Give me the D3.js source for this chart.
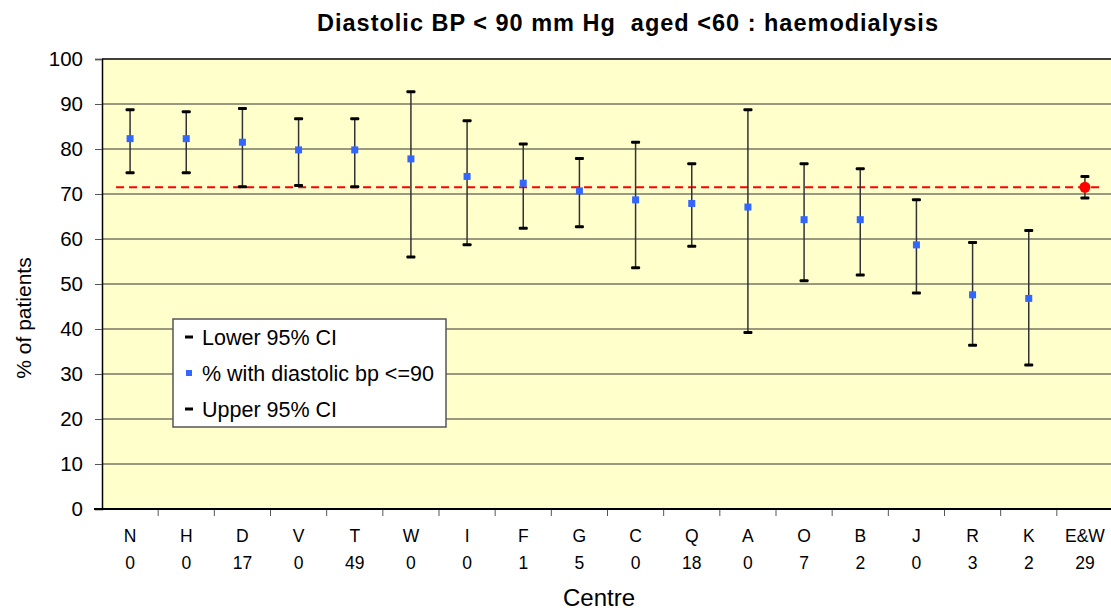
<!DOCTYPE html>
<html>
<head>
<meta charset="utf-8">
<script src="https://cdn.jsdelivr.net/npm/d3@7"></script>
<style>
  body { margin: 0; background: #fff; }
  text { font-family: "Liberation Sans", Arial, sans-serif; }
</style>
</head>
<body>
<script>
var centres = ["N", "H", "D", "V", "T", "W", "I", "F", "G", "C", "Q", "A", "O", "B", "J", "R", "K", "E&W"];
var counts  = ["0", "0", "17", "0", "49", "0", "0", "1", "5", "0", "18", "0", "7", "2", "0", "3", "2", "29"];
var pct     = [82.3, 82.3, 81.5, 79.8, 79.8, 77.8, 73.9, 72.4, 70.7, 68.7, 67.9, 67.1, 64.3, 64.3, 58.7, 47.6, 46.8, 71.5];
var lower   = [74.7, 74.7, 71.6, 71.9, 71.6, 56.0, 58.7, 62.4, 62.7, 53.6, 58.4, 39.2, 50.7, 52.0, 48.0, 36.4, 32.0, 69.1];
var upper   = [88.7, 88.3, 89.0, 86.7, 86.7, 92.7, 86.3, 81.1, 77.9, 81.5, 76.7, 88.7, 76.7, 75.6, 68.7, 59.2, 61.9, 73.9];
var national = 71.5;
var yTicks = [0, 10, 20, 30, 40, 50, 60, 70, 80, 90, 100];
var legendItems = ["Lower 95% CI", "% with diastolic bp <=90", "Upper 95% CI"];

function main() {
    var width = 1111, height = 610;
    var left = 102, right = 1113, top = 59, bottom = 509;

    var data = centres.map(function(c, i) {
        return { c: c, n: counts[i], p: pct[i], lo: lower[i], hi: upper[i] };
    });

    var svg = d3.select("body").append("svg")
        .attr("width", width).attr("height", height);

    var x = d3.scaleBand().domain(centres).range([left, right]);
    var y = d3.scaleLinear().domain([0, 100]).range([bottom, top]);

    // plot background
    svg.append("rect")
        .attr("x", left).attr("y", top)
        .attr("width", right - left).attr("height", bottom - top)
        .attr("fill", "#ffffcc");

    // gridlines
    svg.selectAll("line.grid")
        .data(yTicks.slice(1))
        .enter().append("line")
        .attr("class", "grid")
        .attr("x1", left).attr("x2", right)
        .attr("y1", function(d) { return y(d); })
        .attr("y2", function(d) { return y(d); })
        .attr("stroke", function(d) { return d == 100 ? "#000" : "#333"; })
        .attr("stroke-width", function(d) { return d == 100 ? 1.5 : 1; });

    // y axis
    var yAxis = svg.append("g")
        .attr("transform", "translate(" + left + ",0)")
        .call(d3.axisLeft(y).tickValues(yTicks).tickSize(7).tickPadding(12));
    yAxis.select(".domain").attr("stroke", "#000").attr("stroke-width", 1.5);
    yAxis.selectAll(".tick line").attr("stroke", "#555");
    yAxis.selectAll("text").attr("font-size", "20.5px").attr("fill", "#000")
        .attr("font-family", "Liberation Sans, Arial, sans-serif");

    // x axis (ticks between categories)
    var bounds = centres.slice(1).map(function(c) { return x(c); });
    svg.selectAll("line.xtick")
        .data(bounds)
        .enter().append("line")
        .attr("x1", function(d) { return d; }).attr("x2", function(d) { return d; })
        .attr("y1", bottom).attr("y2", bottom + 7)
        .attr("stroke", "#555");
    svg.append("line")
        .attr("x1", left - 8).attr("x2", right)
        .attr("y1", bottom).attr("y2", bottom)
        .attr("stroke", "#000").attr("stroke-width", 2);

    svg.selectAll("text.cat")
        .data(data).enter().append("text")
        .attr("x", function(d) { return x(d.c) + x.bandwidth() / 2; })
        .attr("y", 542)
        .attr("text-anchor", "middle")
        .attr("font-size", "17.5px")
        .text(function(d) { return d.c; });
    svg.selectAll("text.cnt")
        .data(data).enter().append("text")
        .attr("x", function(d) { return x(d.c) + x.bandwidth() / 2; })
        .attr("y", 569)
        .attr("text-anchor", "middle")
        .attr("font-size", "17.5px")
        .text(function(d) { return d.n; });

    // national reference line
    svg.append("line")
        .attr("x1", x("N") + x.bandwidth() / 2 - 14)
        .attr("x2", x("E&W") + x.bandwidth() / 2 + 19)
        .attr("y1", y(national)).attr("y2", y(national))
        .attr("stroke", "#ff0000").attr("stroke-width", 2)
        .attr("stroke-dasharray", "8,5");

    var cx = function(d) { return x(d.c) + x.bandwidth() / 2; };

    // error bars
    svg.selectAll("line.err")
        .data(data).enter().append("line")
        .attr("x1", cx).attr("x2", cx)
        .attr("y1", function(d) { return y(d.lo); })
        .attr("y2", function(d) { return y(d.hi); })
        .attr("stroke", "#333").attr("stroke-width", 1.5);

    var caps = [];
    data.forEach(function(d) { caps.push({ c: d.c, v: d.lo }); caps.push({ c: d.c, v: d.hi }); });
    svg.selectAll("rect.cap")
        .data(caps).enter().append("rect")
        .attr("x", function(d) { return cx(d) - 4.5; })
        .attr("y", function(d) { return y(d.v) - 1.5; })
        .attr("width", 9).attr("height", 3).attr("rx", 1)
        .attr("fill", "#000");

    // points
    svg.selectAll("rect.pt")
        .data(data.filter(function(d) { return d.c != "E&W"; }))
        .enter().append("rect")
        .attr("x", function(d) { return cx(d) - 3.5; })
        .attr("y", function(d) { return y(d.p) - 3.5; })
        .attr("width", 7).attr("height", 7)
        .attr("fill", "#3366ff");
    svg.selectAll("circle.pt")
        .data(data.filter(function(d) { return d.c == "E&W"; }))
        .enter().append("circle")
        .attr("cx", cx)
        .attr("cy", function(d) { return y(d.p); })
        .attr("r", 5.5)
        .attr("fill", "#ff0000");

    // legend
    var lg = svg.append("g").attr("transform", "translate(173,319)");
    lg.append("rect")
        .attr("width", 273).attr("height", 108)
        .attr("fill", "#fff").attr("stroke", "#555").attr("stroke-width", 1.5);
    legendItems.forEach(function(t, i) {
        var yy = 18 + i * 36;
        if (i == 1) {
            lg.append("rect").attr("x", 13).attr("y", yy - 3).attr("width", 6).attr("height", 6)
                .attr("fill", "#3366ff");
        } else {
            lg.append("rect").attr("x", 12).attr("y", yy - 1.5).attr("width", 8).attr("height", 3)
                .attr("fill", "#000");
        }
        lg.append("text").attr("x", 29).attr("y", yy + 7.5)
            .attr("font-size", "21.5px").text(t);
    });

    // titles
    svg.append("text")
        .attr("x", 628).attr("y", 31)
        .attr("text-anchor", "middle")
        .attr("font-size", "23.5px").attr("font-weight", "bold")
        .attr("letter-spacing", "1px")
        .style("white-space", "pre")
        .text("Diastolic BP < 90 mm Hg  aged <60 : haemodialysis");
    svg.append("text")
        .attr("x", 599).attr("y", 606)
        .attr("text-anchor", "middle")
        .attr("font-size", "24px")
        .text("Centre");
    svg.append("text")
        .attr("transform", "translate(31,318) rotate(-90)")
        .attr("text-anchor", "middle")
        .attr("font-size", "21px")
        .text("% of patients");
}

window.onload = main;
</script>
</body>
</html>
